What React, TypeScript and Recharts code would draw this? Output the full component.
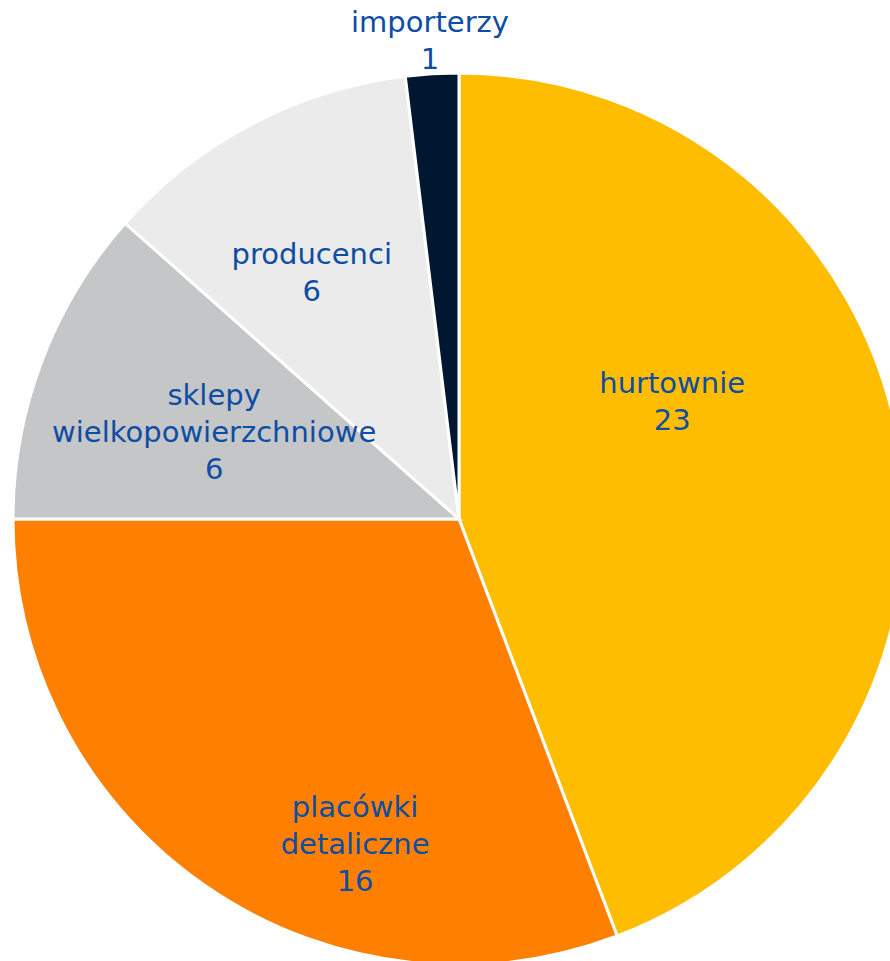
import React from "react";
import { PieChart, Pie, Cell } from "recharts";

const categories = ["hurtownie", "placówki detaliczne", "sklepy wielkopowierzchniowe", "producenci", "importerzy"];
const labelLines = [["hurtownie"], ["placówki", "detaliczne"], ["sklepy", "wielkopowierzchniowe"], ["producenci"], ["importerzy"]];
const values = [23, 16, 6, 6, 1];
const colors = ["#FFBD00", "#FF8000", "#C5C6C8", "#EBEBEB", "#001731"];

// label anchor offsets (fraction of outer radius, relative to pie centre)
const labelOffsets = [
  [0.478, -0.283],
  [-0.233, 0.668],
  [-0.549, -0.256],
  [-0.33, -0.572],
  [-0.065, -1.092],
];

const data = categories.map((name, i) => ({ name, value: values[i] }));

const TEXT_COLOR = "#0D4DA3";
const LINE_H = 37;

const renderLabel = (props: any) => {
  const { cx, cy, outerRadius, index } = props;
  const [fx, fy] = labelOffsets[index];
  const x = cx + fx * outerRadius;
  const y = cy + fy * outerRadius;
  const lines = [...labelLines[index], String(values[index])];
  return (
    <g>
      {lines.map((l, i) => (
        <text
          key={i}
          x={x}
          y={y + i * LINE_H}
          textAnchor="middle"
          fill={TEXT_COLOR}
          fontFamily="'DejaVu Sans', sans-serif"
          fontSize={29}
        >
          {l}
        </text>
      ))}
    </g>
  );
};

export default function App() {
  return (
    <div style={{ position: "absolute", left: 0, top: 0, width: 890, height: 961, background: "#fff" }}>
      <PieChart width={890} height={961} margin={{ top: 0, right: 0, bottom: 0, left: 0 }}>
        <Pie
          data={data}
          dataKey="value"
          nameKey="name"
          cx={459}
          cy={519}
          outerRadius={446}
          innerRadius={0}
          startAngle={90}
          endAngle={-270}
          stroke="#FFFFFF"
          strokeWidth={3}
          label={renderLabel}
          labelLine={false}
          isAnimationActive={false}
        >
          {data.map((d, i) => (
            <Cell key={d.name} fill={colors[i]} />
          ))}
        </Pie>
      </PieChart>
    </div>
  );
}
